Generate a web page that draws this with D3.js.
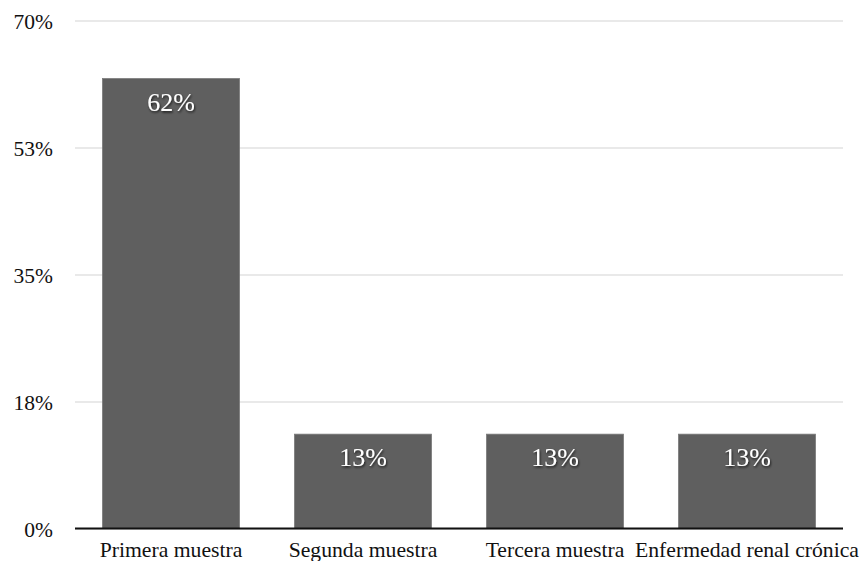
<!DOCTYPE html>
<html>
<head>
<meta charset="utf-8">
<script src="https://cdn.jsdelivr.net/npm/d3@7"></script>
<style>
  html, body { margin: 0; padding: 0; background: #fff; }
  svg { display: block; }
</style>
</head>
<body>
<svg id="chart" width="863" height="561"></svg>
<script>
// Categories and percentages
const categories = ["Primera muestra", "Segunda muestra", "Tercera muestra", "Enfermedad renal crónica"];
const values = [62, 13, 13, 13];
const tickValues = [0, 17.5, 35, 52.5, 70];
const tickLabels = ["0%", "18%", "35%", "53%", "70%"];

const FONT = "'Liberation Serif'";
const svg = d3.select("#chart");
const plotLeft = 75, plotRight = 843, plotTop = 20.5, plotBottom = 528.5;

const x = d3.scaleBand()
  .domain(categories)
  .range([plotLeft, plotRight])
  .paddingInner(0.286)
  .paddingOuter(0.143);

const y = d3.scaleLinear().domain([0, 70]).range([plotBottom, plotTop]);

// Drop shadow for the value labels
const defs = svg.append("defs");
const f = defs.append("filter").attr("id", "shadow")
  .attr("x", "-20%").attr("y", "-20%").attr("width", "140%").attr("height", "160%");
f.append("feDropShadow")
  .attr("dx", 0.8).attr("dy", 1.5).attr("stdDeviation", 1.2)
  .attr("flood-color", "#000").attr("flood-opacity", 0.75);

// Horizontal gridlines and percentage ticks
const yAxis = d3.axisLeft(y)
  .tickValues(tickValues)
  .tickSize(-(plotRight - plotLeft))
  .tickFormat((d, i) => tickLabels[i])
  .tickPadding(22);

const gy = svg.append("g")
  .attr("transform", `translate(${plotLeft},0)`)
  .call(yAxis);
gy.select(".domain").remove();
gy.selectAll(".tick line").attr("stroke", "#e2e2e2").attr("stroke-width", 1.5);
gy.selectAll(".tick text")
  .attr("fill", "#111")
  .attr("dy", "0.36em")
  .style("font-family", FONT)
  .style("font-size", "21.5px");

// Bars
svg.append("g").selectAll("rect")
  .data(values)
  .join("rect")
  .attr("x", (d, i) => x(categories[i]))
  .attr("y", d => y(d))
  .attr("width", x.bandwidth())
  .attr("height", d => y(0) - y(d))
  .attr("fill", "#5f5f5f")
  .attr("stroke", "#7a7a7a")
  .attr("stroke-width", 0.8);

// Value labels inside bars
svg.append("g").selectAll("text")
  .data(values)
  .join("text")
  .attr("x", (d, i) => x(categories[i]) + x.bandwidth() / 2)
  .attr("y", d => y(d) + 32)
  .attr("text-anchor", "middle")
  .attr("fill", "#fff")
  .attr("filter", "url(#shadow)")
  .style("font-family", FONT)
  .style("font-size", "26px")
  .text(d => d + "%");

// Baseline axis with category names
const xAxis = d3.axisBottom(x).tickSize(0).tickPadding(13);
const gx = svg.append("g")
  .attr("transform", `translate(0,${plotBottom})`)
  .call(xAxis);
gx.select(".domain").attr("stroke", "#111").attr("stroke-width", 2)
  .attr("d", `M${plotLeft},0H${plotRight}`);
gx.selectAll(".tick text")
  .attr("fill", "#111")
  .style("font-family", FONT)
  .style("font-size", "21.7px");
</script>
</body>
</html>
